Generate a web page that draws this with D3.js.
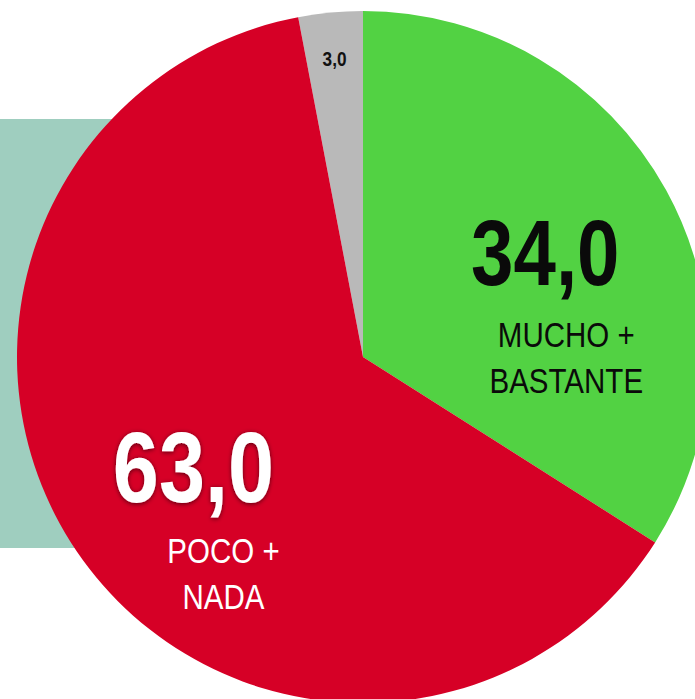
<!DOCTYPE html>
<html>
<head>
<meta charset="utf-8">
<script src="https://cdn.jsdelivr.net/npm/d3@7"></script>
<style>
  html, body { margin: 0; padding: 0; background: #fff; overflow: hidden; }
  text { font-family: "Liberation Sans", Arial, sans-serif; }
</style>
</head>
<body>
<div id="chart"></div>
<script>
// slices, in drawing order (starting just left of 12 o'clock, clockwise)
const categories = ["NS/NC", "MUCHO + BASTANTE", "POCO + NADA"];
const values = [3.0, 34.0, 63.0];
const subLabels = [[], ["MUCHO +", "BASTANTE"], ["POCO +", "NADA"]];
const sliceColors = ["#b9b9b9", "#52d243", "#d60026"];
const textColors = ["#111", "#0a0a0a", "#ffffff"];

const W = 695, H = 699,
      cx = 363, cy = 357,
      radius = 346,
      narrow = 0.82;   // condensed look: squeeze regular Liberation Sans

const fmt = v => d3.format(".1f")(v).replace(".", ",");

const svg = d3.select("#chart").append("svg")
  .attr("width", W)
  .attr("height", H);

const defs = svg.append("defs");
const shadow = defs.append("filter")
  .attr("id", "shadow")
  .attr("x", "-20%").attr("y", "-20%")
  .attr("width", "140%").attr("height", "140%");
shadow.append("feGaussianBlur").attr("in", "SourceAlpha").attr("stdDeviation", 2.5).attr("result", "blur");
shadow.append("feOffset").attr("dx", 0).attr("dy", 1).attr("result", "off");
shadow.append("feComponentTransfer").append("feFuncA").attr("type", "linear").attr("slope", 0.6);
const sm = shadow.append("feMerge");
sm.append("feMergeNode");
sm.append("feMergeNode").attr("in", "SourceGraphic");

// teal panel behind the pie
svg.append("rect")
  .attr("x", 0).attr("y", 119)
  .attr("width", 140).attr("height", 429)
  .attr("fill", "#9fcebf");

const start = -values[0] / d3.sum(values) * 2 * Math.PI;

const pie = d3.pie()
  .sort(null)
  .value(d => d)
  .startAngle(start)
  .endAngle(start + 2 * Math.PI);

const arc = d3.arc().innerRadius(0).outerRadius(radius);

const g = svg.append("g")
  .attr("transform", "translate(" + cx + "," + cy + ")");

const arcs = pie(values);

g.selectAll(".slice")
  .data(arcs)
  .enter().append("path")
  .attr("class", "slice")
  .attr("d", arc)
  .attr("fill", (d, i) => sliceColors[i]);

// label anchors along the middle of each slice
const labelR = [302, 208, 205];
const labelCfg = [
  {size: 21, dy: 10, subDx: 0, subDy: 0},
  {size: 93, dy: 28, subDx: 21, subDy: 90},
  {size: 101, dy: 30, subDx: 30, subDy: 91}
];

function addText(parent, x, y) {
  return parent.append("text")
    .attr("text-anchor", "middle")
    .attr("transform", "translate(" + x + "," + y + ") scale(" + narrow + ",1)");
}

arcs.forEach((d, i) => {
  const a = (d.startAngle + d.endAngle) / 2;
  const x = labelR[i] * Math.sin(a),
        y = -labelR[i] * Math.cos(a);
  const c = labelCfg[i];
  const lg = g.append("g").attr("transform", "translate(" + x + "," + y + ")");

  addText(lg, 0, c.dy)
    .style("font-size", c.size + "px")
    .style("font-weight", "bold")
    .style("fill", textColors[i])
    .style("filter", i === 2 ? "url(#shadow)" : null)
    .text(fmt(values[i]));

  subLabels[i].forEach((s, j) => {
    addText(lg, c.subDx, c.subDy + j * 46)
      .style("font-size", "36px")
      .style("fill", textColors[i])
      .text(s);
  });
});
</script>
</body>
</html>
